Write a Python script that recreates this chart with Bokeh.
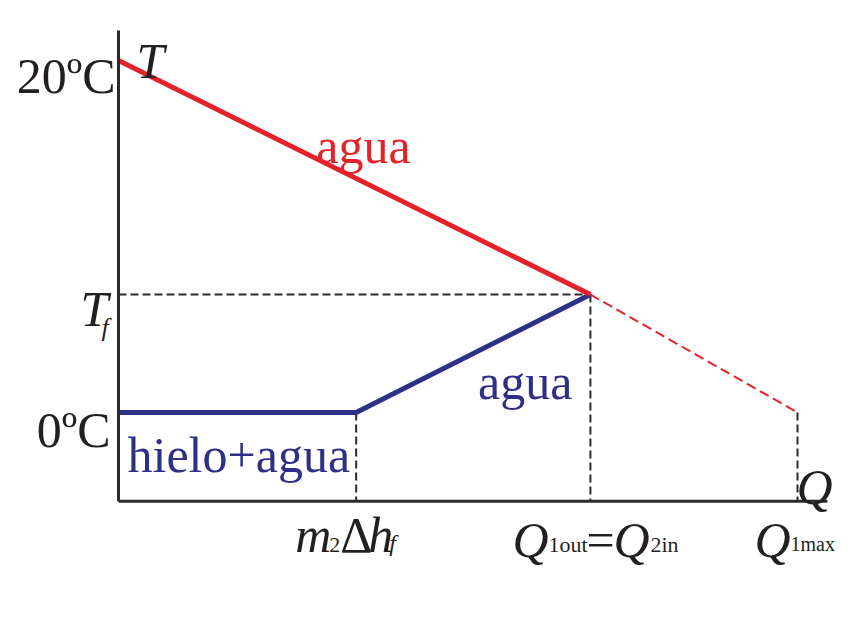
from bokeh.plotting import figure
from bokeh.models import Range1d
from bokeh.core.properties import value
from bokeh.embed import file_html
from bokeh.resources import INLINE

# ---- data (arbitrary heat units on Q, degrees C on T) ----
Q_start = 0.0
Q_melt = 35.0      # m2 Δh_f
Q_eq = 69.5        # Q1out = Q2in
Q_1max = 100.0     # Q1max
T_hot = 20.0       # 20ºC
T_f = 6.7          # T_f
T_cold = 0.0       # 0ºC
T_axis = -5.05     # level of Q axis
T_top = 21.7       # top of T axis
Q_end = 104.4      # right end of Q axis

hot_Q = [Q_start, Q_eq]
hot_T = [T_hot, T_f]
hot_ext_Q = [Q_eq, Q_1max]
hot_ext_T = [T_f, T_cold]
cold_Q = [Q_start, Q_melt, Q_eq]
cold_T = [T_cold, T_cold, T_f]

RED = "#e3232b"
BLUE = "#2e3088"
INK = "#231f20"
AX = "#2b2b2b"
SERIF = "Liberation Serif"

W, H = 849, 605
p = figure(width=W, height=H, output_backend="svg", toolbar_location=None,
           x_range=Range1d(-17.38, -17.38 + W / 6.79), y_range=Range1d(-10.97, 23.41),
           min_border=0, min_border_left=0, min_border_right=0,
           min_border_top=0, min_border_bottom=0)
p.axis.visible = False
p.grid.visible = False
p.outline_line_color = None
p.background_fill_color = "white"
p.border_fill_color = "white"

# dashed guides
dash = dict(line_color=AX, line_width=2, line_dash="8 4")
p.line([Q_start, Q_eq], [T_f, T_f], **dash)
p.line([Q_eq, Q_eq], [T_f, T_axis], **dash)
p.line([Q_melt, Q_melt], [T_cold, T_axis], **dash)
p.line([Q_1max, Q_1max], [T_cold, T_axis], **dash)

# curves
p.line(hot_ext_Q, hot_ext_T, line_color=RED, line_width=2, line_dash="10 5")
p.line(cold_Q, cold_T, line_color=BLUE, line_width=5)
p.line(hot_Q, hot_T, line_color=RED, line_width=5)

# axes
p.line([Q_start, Q_start], [T_axis, T_top], line_color=AX, line_width=3)
p.line([Q_start, Q_end], [T_axis, T_axis], line_color=AX, line_width=3)


def label(x, y, txt, dx, dy, size=50, color=INK, italic=False, align="left"):
    p.text([x], [y], text=[txt], x_offset=dx, y_offset=dy,
           text_font=value(SERIF), text_font_size=f"{size}px",
           text_font_style="italic" if italic else "normal",
           text_color=color, text_align=align, text_baseline="alphabetic")


# T axis labels
label(Q_start, T_hot, "20ºC", -3, 15, align="right")
label(Q_start, T_hot, "T", 18, 0, italic=True)
label(Q_start, T_f, "T", -38, 14, italic=True)
label(Q_start, T_f, "f", -17, 33, size=26, italic=True)
label(Q_start, T_cold, "0ºC", -8, 18, align="right")

# curve labels
label(Q_start, T_cold, "hielo+agua", 9, 43, color=BLUE)
label((Q_start + Q_eq) / 2, (T_hot + T_f) / 2, "agua", 9, -32, color=RED, align="center")
label((Q_melt + Q_eq) / 2, (T_cold + T_f) / 2, "agua", 52, 28, color=BLUE, align="center")

# Q axis labels
label(Q_melt, T_axis, "m", -61, 34, italic=True)
label(Q_melt, T_axis, "2", -27, 44, size=22)
label(Q_melt, T_axis, "Δ", -16, 34)
label(Q_melt, T_axis, "h", 12, 34, italic=True)
label(Q_melt, T_axis, "f", 33, 42, size=24, italic=True)

label(Q_eq, T_axis, "Q", -78, 39, italic=True)
label(Q_eq, T_axis, "1out", -42, 43, size=22)
label(Q_eq, T_axis, "=", -4, 39)
label(Q_eq, T_axis, "Q", 23, 39, italic=True)
label(Q_eq, T_axis, "2in", 60, 43, size=22)

label(Q_1max, T_axis, "Q", -43, 39, italic=True)
label(Q_1max, T_axis, "1max", -7, 43, size=20)

label(Q_1max, T_axis, "Q", -1, -14, italic=True)

open("out.html", "w").write(file_html(p, INLINE))
